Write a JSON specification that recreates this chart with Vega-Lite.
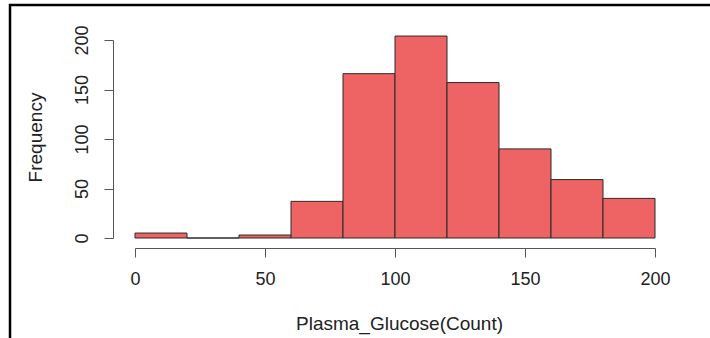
{
  "$schema": "https://vega.github.io/schema/vega-lite/v6.json",
  "width": 703,
  "height": 336,
  "autosize": {"type": "none"},
  "padding": {"left": 10, "top": 5, "right": -3, "bottom": -3},
  "background": "white",
  "config": {
    "view": {"stroke": "black", "strokeWidth": 2.5},
    "font": "Liberation Sans"
  },
  "data": {
    "values": [
      {"bin_start": 0, "bin_end": 20, "count": 5},
      {"bin_start": 20, "bin_end": 40, "count": 0},
      {"bin_start": 40, "bin_end": 60, "count": 3},
      {"bin_start": 60, "bin_end": 80, "count": 37},
      {"bin_start": 80, "bin_end": 100, "count": 166},
      {"bin_start": 100, "bin_end": 120, "count": 204},
      {"bin_start": 120, "bin_end": 140, "count": 157},
      {"bin_start": 140, "bin_end": 160, "count": 90},
      {"bin_start": 160, "bin_end": 180, "count": 59},
      {"bin_start": 180, "bin_end": 200, "count": 40}
    ]
  },
  "mark": {"type": "rect", "fill": "#EE6363", "stroke": "#2b2b2b", "strokeWidth": 1, "opacity": 1},
  "encoding": {
    "x": {
      "field": "bin_start",
      "type": "quantitative",
      "scale": {"domain": [0, 200], "range": [125, 645], "nice": false, "zero": false},
      "axis": {
        "title": "Plasma_Glucose(Count)",
        "values": [0, 50, 100, 150, 200],
        "grid": false,
        "offset": -93,
        "domainColor": "#555555",
        "domainWidth": 1,
        "tickColor": "#555555",
        "tickWidth": 1,
        "tickSize": 9,
        "labelFont": "Liberation Sans",
        "labelFontSize": 18,
        "labelColor": "#222222",
        "labelBaseline": "top",
        "labelPadding": 13,
        "labelFlush": false,
        "labelOverlap": false,
        "titleFont": "Liberation Sans",
        "titleFontSize": 19,
        "titleFontWeight": "normal",
        "titleColor": "#222222",
        "titleBaseline": "alphabetic",
        "titleAlign": "center",
        "titleX": 389,
        "titleY": 81
      }
    },
    "x2": {"field": "bin_end"},
    "y": {
      "field": "count",
      "type": "quantitative",
      "scale": {"domain": [0, 200], "range": [233, 35], "nice": false},
      "axis": {
        "title": "Frequency",
        "values": [0, 50, 100, 150, 200],
        "grid": false,
        "offset": -103,
        "domainColor": "#555555",
        "domainWidth": 1,
        "tickColor": "#555555",
        "tickWidth": 1,
        "tickSize": 9,
        "labelFont": "Liberation Sans",
        "labelFontSize": 18,
        "labelColor": "#222222",
        "labelAngle": 270,
        "labelAlign": "center",
        "labelBaseline": "alphabetic",
        "labelPadding": 17,
        "labelFlush": false,
        "labelOverlap": false,
        "titleFont": "Liberation Sans",
        "titleFontSize": 19,
        "titleFontWeight": "normal",
        "titleColor": "#222222",
        "titleAngle": 270,
        "titleBaseline": "alphabetic",
        "titleAlign": "center",
        "titleX": -72,
        "titleY": 132
      }
    },
    "y2": {"datum": 0}
  }
}
